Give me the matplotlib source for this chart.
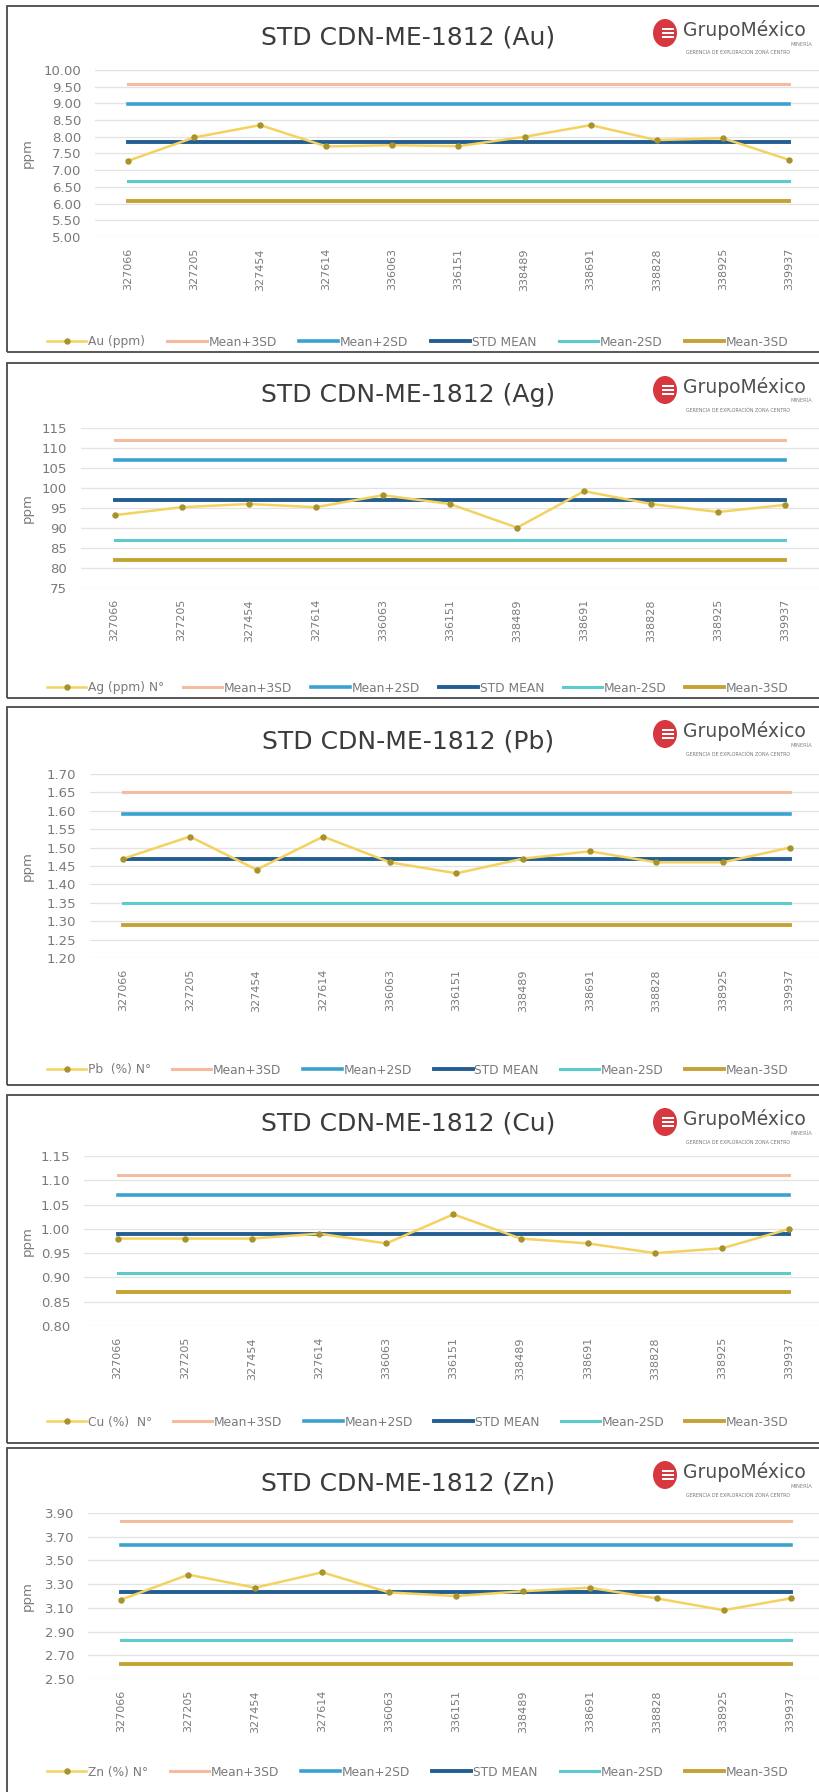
import numpy as np
import matplotlib
matplotlib.use('Agg')
import matplotlib.pyplot as plt
from matplotlib.patches import Rectangle, Ellipse

plt.rcParams['font.family'] = ['DejaVu Sans']

# --- data ---
samples = ['327066', '327205', '327454', '327614', '336063', '336151',
           '338489', '338691', '338828', '338925', '339937']

au = [7.28, 7.98, 8.35, 7.71, 7.75, 7.72, 8.00, 8.35, 7.90, 7.96, 7.31]
ag = [93.2, 95.2, 96.0, 95.2, 98.2, 96.0, 90.1, 99.2, 96.0, 94.0, 95.8]
pb = [1.47, 1.53, 1.44, 1.53, 1.46, 1.43, 1.47, 1.49, 1.46, 1.46, 1.50]
cu = [0.98, 0.98, 0.98, 0.99, 0.97, 1.03, 0.98, 0.97, 0.95, 0.96, 1.00]
zn = [3.17, 3.38, 3.27, 3.40, 3.23, 3.20, 3.24, 3.27, 3.18, 3.08, 3.18]

# Mean+3SD, Mean+2SD, STD MEAN, Mean-2SD, Mean-3SD
au_levels = [9.57, 8.99, 7.83, 6.67, 6.09]
ag_levels = [112.1, 107.1, 97.1, 87.1, 82.1]
pb_levels = [1.65, 1.59, 1.47, 1.35, 1.29]
cu_levels = [1.11, 1.07, 0.99, 0.91, 0.87]
zn_levels = [3.83, 3.63, 3.23, 2.83, 2.63]

au_ticks = [5.0, 5.5, 6.0, 6.5, 7.0, 7.5, 8.0, 8.5, 9.0, 9.5, 10.0]
ag_ticks = [75, 80, 85, 90, 95, 100, 105, 110, 115]
pb_ticks = [1.20, 1.25, 1.30, 1.35, 1.40, 1.45, 1.50, 1.55, 1.60, 1.65, 1.70]
cu_ticks = [0.80, 0.85, 0.90, 0.95, 1.00, 1.05, 1.10, 1.15]
zn_ticks = [2.50, 2.70, 2.90, 3.10, 3.30, 3.50, 3.70, 3.90]

level_names = ['Mean+3SD', 'Mean+2SD', 'STD MEAN', 'Mean-2SD', 'Mean-3SD']
level_colors = ['#F4BC9E', '#3AA2D1', '#225E92', '#5DCACB', '#C5A234']
level_widths = [2.2, 2.6, 2.8, 2.2, 2.8]

W, H = 820, 1792

def fx(x):
    return x / W

def fy(y):
    return 1 - y / H

# title, series label, values, levels, ticks, fmt, box top/bottom, title y, plot top/bottom/left/right, legend y
panels = [
    ('STD CDN-ME-1812 (Au)', 'Au (ppm)', au, au_levels, au_ticks, '%.2f',
     6, 352, 37, 70, 237, 95, 822, 342),
    ('STD CDN-ME-1812 (Ag)', 'Ag (ppm) N°', ag, ag_levels, ag_ticks, '%d',
     363, 698, 395, 428, 588, 81, 819, 688),
    ('STD CDN-ME-1812 (Pb)', 'Pb  (%) N°', pb, pb_levels, pb_ticks, '%.2f',
     707, 1085, 742, 774, 958, 90, 823, 1070),
    ('STD CDN-ME-1812 (Cu)', 'Cu (%)  N°', cu, cu_levels, cu_ticks, '%.2f',
     1095, 1443, 1123, 1156, 1326, 84, 823, 1422),
    ('STD CDN-ME-1812 (Zn)', 'Zn (%) N°', zn, zn_levels, zn_ticks, '%.2f',
     1448, 1800, 1483, 1513, 1679, 88, 824, 1772),
]

fig = plt.figure(figsize=(W / 100, H / 100), dpi=100)
fig.patch.set_facecolor('white')

for (title, name, vals, levels, ticks, fmt, btop, bbot, ty,
     ptop, pbot, pleft, pright, ly) in panels:
    # panel frame
    fig.patches.append(Rectangle((fx(7), fy(bbot)), fx(840) - fx(7), fy(btop) - fy(bbot),
                                 transform=fig.transFigure, fill=False,
                                 edgecolor='#4a4a4a', linewidth=1.3))
    fig.text(fx(408), fy(ty), title, ha='center', va='center', fontsize=18, color='#3c3c3c')

    # logo
    fig.patches.append(Ellipse((fx(665), fy(btop + 27)), 24 / W, 28 / H, transform=fig.transFigure,
                               facecolor='#D7373F', edgecolor='none'))
    for dy in (-4, 0, 4):
        fig.patches.append(Rectangle((fx(662), fy(btop + 27 + dy) - 0.6 / H), 12 / W, 1.4 / H,
                                     transform=fig.transFigure, facecolor='white', edgecolor='none'))
    fig.text(fx(683), fy(btop + 24), 'GrupoMéxico', ha='left', va='center', fontsize=13.5, color='#505050')
    fig.text(fx(812), fy(btop + 38), 'MINERÍA', ha='right', va='center', fontsize=3.8, color='#888888')
    fig.text(fx(738), fy(btop + 47), 'GERENCIA DE EXPLORACIÓN ZONA CENTRO', ha='center', va='center',
             fontsize=3.4, color='#777777')

    ax = fig.add_axes([fx(pleft), fy(pbot), (pright - pleft) / W, (pbot - ptop) / H])
    x = np.arange(len(samples))
    handles = []
    h, = ax.plot(x, vals, color='#F4D260', linewidth=1.8, marker='o', markersize=3.6,
                 markerfacecolor='#A8922C', markeredgecolor='#A8922C', zorder=4, label=name)
    handles.append(h)
    for lv, lname, lc, lw in zip(levels, level_names, level_colors, level_widths):
        h, = ax.plot(x, [lv] * len(samples), color=lc, linewidth=lw, zorder=3, label=lname)
        handles.append(h)

    ax.set_xlim(-0.5, len(samples) - 0.5)
    ax.set_ylim(ticks[0], ticks[-1])
    ax.set_yticks(ticks)
    ax.set_yticklabels([fmt % t for t in ticks])
    ax.set_xticks(x)
    ax.set_xticklabels(samples, rotation=90)
    ax.tick_params(length=0, colors='#7a7a7a')
    ax.tick_params(axis='y', pad=10, labelsize=9.5)
    ax.tick_params(axis='x', pad=8, labelsize=8)
    ax.grid(axis='y', color='#e3e3e3', linewidth=0.9)
    ax.set_axisbelow(True)
    for s in ax.spines.values():
        s.set_visible(False)
    fig.text(fx(27), fy((ptop + pbot) / 2), 'ppm', rotation=90, ha='center', va='center',
             fontsize=9.5, color='#7a7a7a')

    fig.legend(handles=handles, loc='center', ncol=6, mode='expand', frameon=False,
               bbox_to_anchor=(fx(36), fy(ly) - 0.004, fx(800) - fx(36), 0.008),
               bbox_transform=fig.transFigure, fontsize=8.8, labelcolor='#7a7a7a',
               handlelength=3.2, handletextpad=0.15, columnspacing=0.5)

fig.savefig('out.png', dpi=100, facecolor='white')
